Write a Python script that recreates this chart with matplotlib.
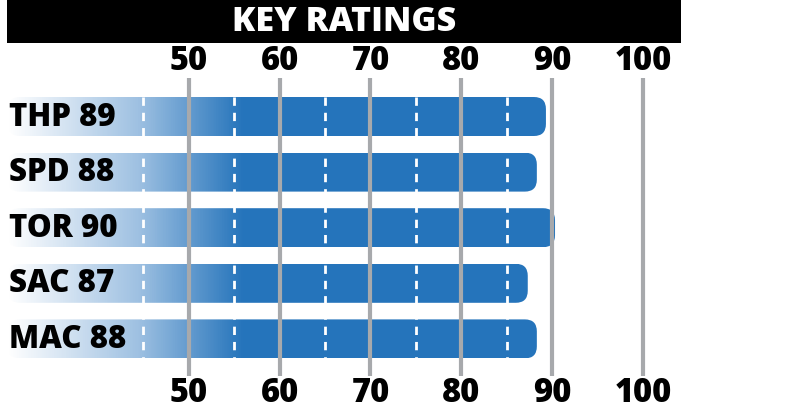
import numpy as np
import matplotlib
matplotlib.use('Agg')
import matplotlib.pyplot as plt
from matplotlib.patches import FancyBboxPatch, Rectangle
from matplotlib.colors import LinearSegmentedColormap

# Datos del grafico
teams = ['THP', 'SPD', 'TOR', 'SAC', 'MAC']
ratings = [89, 88, 90, 87, 88]
solid_ticks = [50, 60, 70, 80, 90, 100]
dash_ticks = [45, 55, 65, 75, 85]
title = 'KEY RATINGS'

blue = '#2574bb'
grey = '#a7a9ac'
font = 'Open Sans'

W, H = 785, 415
fig = plt.figure(figsize=(W / 100, H / 100), dpi=100)
ax = fig.add_axes([0, 0, 1, 1])

# escala: 50 -> 189 px, 100 -> 643 px ; filas cada 55.6 px, primera en 116.5 px
px_x = 9.09
x0 = 50 - 188.7 / px_x
ax.set_xlim(x0, x0 + W / px_x)
px_y = 55.6
y0 = -116.5 / px_y
ax.set_ylim(y0 + H / px_y, y0)
ax.axis('off')

cmap = LinearSegmentedColormap.from_list(
    'fade', [(0, '#ffffff'), (0.55, '#9fc1e2'), (1, blue)])
bar_h = 39 / px_y
rad = 12 / px_x
aspect = (12 / px_y) / rad
start = x0 + 8 / px_x
g_end = 56

for i, (team, val) in enumerate(zip(teams, ratings)):
    end = val + 0.3
    patch = FancyBboxPatch((start, i - bar_h / 2), end - start, bar_h,
                           boxstyle=f'round,pad=0,rounding_size={rad}',
                           mutation_aspect=aspect, fc='none', ec='none', zorder=1)
    ax.add_patch(patch)
    xs = np.linspace(start, end, 800)
    grad = np.clip((xs - start) / (g_end - start), 0, 1).reshape(1, -1)
    im = ax.imshow(grad, cmap=cmap, vmin=0, vmax=1, aspect='auto',
                   interpolation='nearest',
                   extent=(start, end, i + bar_h / 2, i - bar_h / 2), zorder=2)
    im.set_clip_path(patch)
    ax.text(x0 + 9 / px_x, i + 0.02, f'{team} {val}', ha='left', va='center',
            fontsize=22.5, fontweight='heavy', family=font, color='black', zorder=5)

for t in dash_ticks:
    ax.vlines(t, -0.5 + 0.15, len(teams) - 0.5 - 0.15, colors='white', lw=2,
              linestyles=(0, (3, 2.5)), zorder=3)

y_top = y0 + 78 / px_y
y_bot = y0 + 376 / px_y
for t in solid_ticks:
    ax.vlines(t, y_top, y_bot, colors=grey, lw=3, zorder=4)
    ax.text(t, y0 + 61 / px_y, str(t), ha='center', va='center', fontsize=23.5,
            fontweight='heavy', family=font, color='black')
    ax.text(t, y0 + 393 / px_y, str(t), ha='center', va='center', fontsize=23.5,
            fontweight='heavy', family=font, color='black')

# barra del titulo
ax.add_patch(Rectangle((x0 + 7 / px_x, y0 + 43 / px_y), 674 / px_x, -43 / px_y,
                       color='black', lw=0, zorder=1))
ax.text(x0 + 344 / px_x, y0 + 22 / px_y, title, ha='center', va='center',
        fontsize=24.5, fontweight='heavy', family=font, color='white', zorder=5)

fig.savefig('out.png', dpi=100)
